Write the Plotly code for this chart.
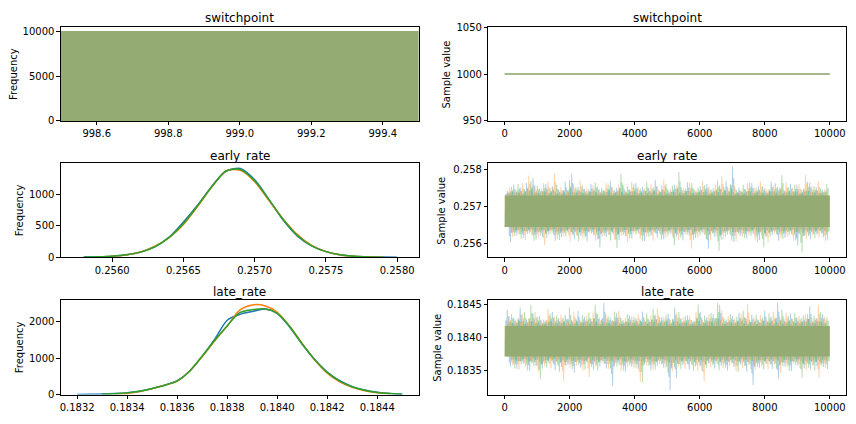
import numpy as np
import plotly.graph_objects as go

# ---------------------------------------------------------------- data
CHAIN_COLORS = ["#1f77b4", "#ff7f0e", "#2ca02c"]
N_DRAWS = 10000

# switchpoint: every draw of every chain is the same value
switchpoint_value = [1000, 1000, 1000]
switchpoint_bin_edges = [998.5, 999.5]
switchpoint_counts = [10000, 10000, 10000]

# posterior density estimates (frequency scale), one list per chain
early_kde_x = [0.2558, 0.2559, 0.2560, 0.2561, 0.2562, 0.2563, 0.2564, 0.2565,
               0.2566, 0.2567, 0.2568, 0.2569, 0.2570, 0.2571, 0.2572, 0.2573,
               0.2574, 0.2575, 0.2576, 0.2577, 0.2578, 0.2579, 0.2580]
early_kde_blue = [3, 8, 18, 40, 85, 170, 320, 560, 830, 1130, 1370, 1410, 1230,
                  920, 590, 335, 180, 90, 40, 17, 7, 3, 1]
early_kde_orange = [None, 7, 16, 38, 85, 175, 310, 520, 810, 1120, 1375, 1380,
                    1200, 900, 610, 360, 190, 92, 38, 15, 6, 2, None]
early_kde_green = [3, 8, 17, 40, 82, 168, 315, 535, 820, 1125, 1370, 1395, 1215,
                   915, 600, 345, 182, 90, 40, 16, 6, 2, None]

late_kde_x = [0.18320, 0.18325, 0.18330, 0.18335, 0.18340, 0.18345, 0.18350,
              0.18355, 0.18360, 0.18365, 0.18370, 0.18375, 0.18380, 0.18385,
              0.18390, 0.18395, 0.18400, 0.18405, 0.18410, 0.18415, 0.18420,
              0.18425, 0.18430, 0.18435, 0.18440, 0.18445, 0.18450]
late_kde_blue = [5, 8, 15, 28, 50, 95, 170, 260, 380, 640, 1050, 1520, 2040, 2200,
                 2280, 2350, 2230, 1850, 1380, 960, 620, 380, 220, 125, 65, 30, 12]
late_kde_orange = [None, None, None, 20, 40, 85, 165, 255, 370, 650, 1040, 1470,
                   1880, 2320, 2460, 2440, 2260, 1880, 1400, 950, 590, 350, 200,
                   105, 50, 22, None]
late_kde_green = [None, None, 12, 26, 48, 92, 168, 258, 375, 650, 1060, 1490, 1890,
                  2250, 2330, 2355, 2230, 1870, 1390, 960, 610, 370, 215, 120, 60,
                  28, 12]

# sample traces: bulk of each chain plus the local extremes along the run
early_core = [0.25645, 0.25729]
early_hi_blue = [0.25742, 0.25758, 0.25751, 0.25763, 0.25776, 0.25748, 0.25760, 0.25754,
                 0.25745, 0.25766, 0.25786, 0.25752, 0.25747, 0.25761, 0.25755, 0.25744,
                 0.25768, 0.25750, 0.25757, 0.25746, 0.25762, 0.25753, 0.25749, 0.25771,
                 0.25756, 0.25743, 0.25759, 0.25752, 0.25765, 0.25747, 0.25754, 0.25761,
                 0.25748, 0.25757, 0.25769, 0.25806, 0.25751, 0.25746, 0.25763, 0.25755,
                 0.25749, 0.25767, 0.25753, 0.25744, 0.25760, 0.25758, 0.25747, 0.25764,
                 0.25752, 0.25745]
early_hi_orange = [0.25750, 0.25745, 0.25762, 0.25783, 0.25754, 0.25748, 0.25767, 0.25789,
                   0.25752, 0.25744, 0.25759, 0.25770, 0.25749, 0.25756, 0.25746, 0.25763,
                   0.25751, 0.25758, 0.25743, 0.25766, 0.25753, 0.25748, 0.25761, 0.25755,
                   0.25772, 0.25747, 0.25757, 0.25750, 0.25764, 0.25745, 0.25769, 0.25752,
                   0.25759, 0.25781, 0.25748, 0.25756, 0.25743, 0.25762, 0.25751, 0.25767,
                   0.25746, 0.25758, 0.25753, 0.25765, 0.25749, 0.25760, 0.25784, 0.25754,
                   0.25768, 0.25747]
early_hi_green = [0.25753, 0.25760, 0.25747, 0.25768, 0.25755, 0.25762, 0.25749, 0.25758,
                  0.25744, 0.25771, 0.25752, 0.25757, 0.25746, 0.25764, 0.25750, 0.25759,
                  0.25745, 0.25787, 0.25754, 0.25761, 0.25748, 0.25766, 0.25752, 0.25743,
                  0.25760, 0.25756, 0.25792, 0.25749, 0.25763, 0.25751, 0.25757, 0.25746,
                  0.25769, 0.25753, 0.25760, 0.25744, 0.25758, 0.25765, 0.25750, 0.25755,
                  0.25747, 0.25762, 0.25784, 0.25752, 0.25759, 0.25745, 0.25767, 0.25754,
                  0.25749, 0.25761]
early_lo_blue = [0.25604, 0.25622, 0.25615, 0.25628, 0.25611, 0.25619, 0.25625, 0.25608,
                 0.25617, 0.25630, 0.25613, 0.25621, 0.25606, 0.25624, 0.25591, 0.25618,
                 0.25627, 0.25610, 0.25620, 0.25614, 0.25629, 0.25607, 0.25623, 0.25616,
                 0.25612, 0.25626, 0.25619, 0.25609, 0.25622, 0.25615, 0.25628, 0.25587,
                 0.25618, 0.25611, 0.25625, 0.25605, 0.25621, 0.25614, 0.25627, 0.25610,
                 0.25619, 0.25623, 0.25608, 0.25616, 0.25626, 0.25595, 0.25620, 0.25612,
                 0.25624, 0.25617]
early_lo_orange = [0.25618, 0.25625, 0.25610, 0.25622, 0.25614, 0.25596, 0.25627, 0.25612,
                   0.25620, 0.25606, 0.25623, 0.25615, 0.25629, 0.25609, 0.25618, 0.25624,
                   0.25611, 0.25621, 0.25605, 0.25626, 0.25613, 0.25619, 0.25608, 0.25628,
                   0.25616, 0.25622, 0.25610, 0.25625, 0.25587, 0.25617, 0.25623, 0.25609,
                   0.25620, 0.25613, 0.25627, 0.25606, 0.25618, 0.25624, 0.25611, 0.25621,
                   0.25603, 0.25626, 0.25614, 0.25619, 0.25608, 0.25625, 0.25612, 0.25622,
                   0.25616, 0.25607]
early_lo_green = [0.25620, 0.25613, 0.25626, 0.25608, 0.25622, 0.25615, 0.25628, 0.25610,
                  0.25619, 0.25624, 0.25606, 0.25617, 0.25627, 0.25612, 0.25621, 0.25609,
                  0.25589, 0.25623, 0.25614, 0.25625, 0.25607, 0.25618, 0.25629, 0.25611,
                  0.25620, 0.25596, 0.25616, 0.25624, 0.25610, 0.25622, 0.25613, 0.25627,
                  0.25581, 0.25619, 0.25608, 0.25625, 0.25615, 0.25621, 0.25604, 0.25591,
                  0.25618, 0.25626, 0.25612, 0.25623, 0.25609, 0.25576, 0.25620, 0.25614,
                  0.25628, 0.25611]

late_core = [0.18371, 0.18417]
late_hi_blue = [0.18441, 0.18430, 0.18445, 0.18427, 0.18436, 0.18432, 0.18425, 0.18438,
                0.18429, 0.18434, 0.18426, 0.18440, 0.18431, 0.18428, 0.18435, 0.18452,
                0.18430, 0.18437, 0.18426, 0.18433, 0.18429, 0.18439, 0.18427, 0.18434,
                0.18431, 0.18436, 0.18445, 0.18428, 0.18433, 0.18425, 0.18438, 0.18430,
                0.18435, 0.18449, 0.18427, 0.18432, 0.18437, 0.18429, 0.18434, 0.18426,
                0.18440, 0.18431, 0.18452, 0.18428, 0.18436, 0.18430, 0.18433, 0.18447,
                0.18429, 0.18435]
late_hi_orange = [0.18432, 0.18427, 0.18436, 0.18429, 0.18438, 0.18425, 0.18443, 0.18431,
                  0.18434, 0.18428, 0.18439, 0.18426, 0.18433, 0.18437, 0.18430, 0.18435,
                  0.18427, 0.18440, 0.18429, 0.18432, 0.18436, 0.18428, 0.18434, 0.18444,
                  0.18431, 0.18426, 0.18437, 0.18430, 0.18433, 0.18438, 0.18427, 0.18435,
                  0.18429, 0.18441, 0.18432, 0.18428, 0.18436, 0.18450, 0.18430, 0.18434,
                  0.18426, 0.18439, 0.18431, 0.18437, 0.18428, 0.18433, 0.18435, 0.18429,
                  0.18448, 0.18431]
late_hi_green = [0.18435, 0.18429, 0.18438, 0.18449, 0.18431, 0.18427, 0.18436, 0.18433,
                 0.18430, 0.18445, 0.18428, 0.18434, 0.18437, 0.18449, 0.18426, 0.18432,
                 0.18439, 0.18429, 0.18435, 0.18431, 0.18427, 0.18436, 0.18443, 0.18430,
                 0.18434, 0.18428, 0.18438, 0.18432, 0.18426, 0.18449, 0.18433, 0.18437,
                 0.18452, 0.18429, 0.18435, 0.18431, 0.18440, 0.18427, 0.18434, 0.18430,
                 0.18436, 0.18428, 0.18442, 0.18432, 0.18437, 0.18429, 0.18435, 0.18433,
                 0.18438, 0.18430]
late_lo_blue = [0.18356, 0.18352, 0.18360, 0.18349, 0.18357, 0.18353, 0.18361, 0.18350,
                0.18355, 0.18358, 0.18347, 0.18354, 0.18362, 0.18351, 0.18356, 0.18353,
                0.18327, 0.18359, 0.18348, 0.18355, 0.18352, 0.18360, 0.18350, 0.18357,
                0.18354, 0.18320, 0.18339, 0.18358, 0.18351, 0.18356, 0.18349, 0.18361,
                0.18353, 0.18357, 0.18350, 0.18355, 0.18359, 0.18348, 0.18328, 0.18354,
                0.18360, 0.18352, 0.18337, 0.18356, 0.18349, 0.18358, 0.18353, 0.18351,
                0.18357, 0.18355]
late_lo_orange = [0.18358, 0.18351, 0.18355, 0.18360, 0.18348, 0.18356, 0.18353, 0.18359,
                  0.18334, 0.18354, 0.18357, 0.18350, 0.18340, 0.18356, 0.18361, 0.18352,
                  0.18358, 0.18349, 0.18355, 0.18353, 0.18333, 0.18357, 0.18351, 0.18360,
                  0.18354, 0.18348, 0.18356, 0.18352, 0.18359, 0.18350, 0.18333, 0.18355,
                  0.18361, 0.18353, 0.18357, 0.18349, 0.18354, 0.18358, 0.18351, 0.18356,
                  0.18352, 0.18359, 0.18347, 0.18355, 0.18360, 0.18353, 0.18350, 0.18357,
                  0.18339, 0.18354]
late_lo_green = [0.18353, 0.18359, 0.18350, 0.18356, 0.18337, 0.18354, 0.18361, 0.18348,
                 0.18357, 0.18352, 0.18358, 0.18351, 0.18355, 0.18349, 0.18360, 0.18353,
                 0.18356, 0.18350, 0.18358, 0.18354, 0.18332, 0.18357, 0.18351, 0.18359,
                 0.18346, 0.18355, 0.18352, 0.18360, 0.18349, 0.18356, 0.18353, 0.18358,
                 0.18350, 0.18354, 0.18361, 0.18348, 0.18357, 0.18352, 0.18355, 0.18351,
                 0.18359, 0.18353, 0.18356, 0.18349, 0.18358, 0.18339, 0.18354, 0.18350,
                 0.18357, 0.18352]

ALPHA = 0.35
FONT = "DejaVu Sans"
W, H = 856, 424

# outline of one excursion: (offset in draws, fraction of the way from bulk edge to extreme)
EXCURSION = [(-70, 0.0), (-64, 0.35), (-22, 0.35), (-16, 1.0), (14, 1.0),
             (20, 0.6), (52, 0.6), (58, 0.0)]


def trace_outline(hi, lo, core, chain):
    """Closed outline of one chain: a solid bulk with stepped excursion columns."""
    last = N_DRAWS - 1
    start = 80 + 66 * chain
    xs_hi = np.linspace(start, start + 9700, len(hi))
    xs_lo = np.minimum(np.linspace(start + 99, start + 9720, len(lo)), last - 70)
    bottom, top = core
    px, py = [0, 0], [bottom, top]
    for x, v in zip(xs_hi, hi):
        for dx, f in EXCURSION:
            px.append(x + dx)
            py.append(top + f * (v - top))
    px += [last, last]
    py += [top, bottom]
    for x, v in zip(xs_lo[::-1], lo[::-1]):
        for dx, f in reversed(EXCURSION):
            px.append(x - dx)
            py.append(bottom + f * (v - bottom))
    px.append(0)
    py.append(bottom)
    return px, py


fig = go.Figure()

# row 1 left: switchpoint histogram
centre = float(np.mean(switchpoint_bin_edges))
width = float(np.diff(switchpoint_bin_edges)[0])
for c, count in enumerate(switchpoint_counts):
    fig.add_trace(go.Bar(x=[centre], y=[count], width=[width], xaxis="x", yaxis="y",
                         marker=dict(color=CHAIN_COLORS[c], line=dict(width=0)),
                         opacity=ALPHA, showlegend=False, hoverinfo="skip"))

# row 1 right: switchpoint trace
for c, v in enumerate(switchpoint_value):
    fig.add_trace(go.Scatter(x=[0, N_DRAWS - 1], y=[v, v], mode="lines",
                             xaxis="x2", yaxis="y2", opacity=ALPHA,
                             line=dict(color=CHAIN_COLORS[c], width=1.5),
                             showlegend=False, hoverinfo="skip"))

# rows 2-3 left: density curves
for xa, ya, xs, curves in [("x3", "y3", early_kde_x, [early_kde_blue, early_kde_orange, early_kde_green]),
                           ("x5", "y5", late_kde_x, [late_kde_blue, late_kde_orange, late_kde_green])]:
    for c, ys in enumerate(curves):
        fig.add_trace(go.Scatter(x=xs, y=ys, mode="lines", xaxis=xa, yaxis=ya,
                                 line=dict(color=CHAIN_COLORS[c], width=1.5, shape="spline", smoothing=0.8),
                                 connectgaps=False, showlegend=False, hoverinfo="skip"))

# rows 2-3 right: sample traces
for xa, ya, core, his, los in [
        ("x4", "y4", early_core, [early_hi_blue, early_hi_orange, early_hi_green],
         [early_lo_blue, early_lo_orange, early_lo_green]),
        ("x6", "y6", late_core, [late_hi_blue, late_hi_orange, late_hi_green],
         [late_lo_blue, late_lo_orange, late_lo_green])]:
    for c in range(3):
        px, py = trace_outline(his[c], los[c], core, c)
        fig.add_trace(go.Scatter(x=px, y=py, mode="lines", fill="toself",
                                 fillcolor=CHAIN_COLORS[c], line=dict(width=0, color=CHAIN_COLORS[c]),
                                 opacity=ALPHA, xaxis=xa, yaxis=ya,
                                 showlegend=False, hoverinfo="skip"))

# ---------------------------------------------------------------- axes
LEFT = [60 / W, 418 / W]
RIGHT = [488 / W, 846 / W]
ROWS = [[1 - 119 / H, 1 - 22.7 / H], [1 - 259 / H, 1 - 162.7 / H], [1 - 400 / H, 1 - 302.7 / H]]

base = dict(showline=True, mirror=True, linecolor="black", linewidth=1,
            ticks="outside", ticklen=3.5, tickwidth=1, tickcolor="black",
            showgrid=False, zeroline=False, fixedrange=True,
            tickfont=dict(family=FONT, size=10, color="black"))

early_range = [0.25564, 0.25815]
late_range = [0.183135, 0.184565]
draw_range = [-0.05 * (N_DRAWS - 1), 1.05 * (N_DRAWS - 1)]
draw_ticks = [0, 2000, 4000, 6000, 8000, 10000]

axes = {
    "xaxis": dict(domain=LEFT, anchor="y", range=switchpoint_bin_edges,
                  tickvals=[998.6, 998.8, 999.0, 999.2, 999.4], tickformat=".1f"),
    "yaxis": dict(domain=ROWS[0], anchor="x", range=[0, 10500],
                  tickvals=[0, 5000, 10000], tickformat="d"),
    "xaxis2": dict(domain=RIGHT, anchor="y2", range=draw_range, tickvals=draw_ticks, tickformat="d"),
    "yaxis2": dict(domain=ROWS[0], anchor="x2", range=[950, 1050],
                   tickvals=[950, 1000, 1050], tickformat="d"),
    "xaxis3": dict(domain=LEFT, anchor="y3", range=early_range,
                   tickvals=[0.2560, 0.2565, 0.2570, 0.2575, 0.2580], tickformat=".4f"),
    "yaxis3": dict(domain=ROWS[1], anchor="x3", range=[0, 1490],
                   tickvals=[0, 500, 1000], tickformat="d"),
    "xaxis4": dict(domain=RIGHT, anchor="y4", range=draw_range, tickvals=draw_ticks, tickformat="d"),
    "yaxis4": dict(domain=ROWS[1], anchor="x4", range=early_range,
                   tickvals=[0.256, 0.257, 0.258], tickformat=".3f"),
    "xaxis5": dict(domain=LEFT, anchor="y5", range=late_range,
                   tickvals=[0.1832, 0.1834, 0.1836, 0.1838, 0.1840, 0.1842, 0.1844], tickformat=".4f"),
    "yaxis5": dict(domain=ROWS[2], anchor="x5", range=[0, 2600],
                   tickvals=[0, 1000, 2000], tickformat="d"),
    "xaxis6": dict(domain=RIGHT, anchor="y6", range=draw_range, tickvals=draw_ticks, tickformat="d"),
    "yaxis6": dict(domain=ROWS[2], anchor="x6", range=late_range,
                   tickvals=[0.1835, 0.1840, 0.1845], tickformat=".4f"),
}
for k, v in axes.items():
    axes[k] = {**base, **v}

# ---------------------------------------------------------------- text
annotations = []
titles = ["switchpoint", "early_rate", "late_rate"]
title_y = [13.3, 155, 295]
for name, ty in zip(titles, title_y):
    for dom in (LEFT, RIGHT):
        annotations.append(dict(text=name, x=(dom[0] + dom[1]) / 2, y=1 - ty / H,
                                xref="paper", yref="paper", showarrow=False,
                                xanchor="center", yanchor="middle",
                                font=dict(family=FONT, size=12, color="black")))

ylabel_pos = [(12, "Frequency", 0), (18, "Frequency", 1), (18, "Frequency", 2),
              (446, "Sample value", 0), (441, "Sample value", 1), (437, "Sample value", 2)]
for px, label, r in ylabel_pos:
    annotations.append(dict(text=label, x=px / W, y=(ROWS[r][0] + ROWS[r][1]) / 2,
                            xref="paper", yref="paper", showarrow=False, textangle=-90,
                            xanchor="center", yanchor="middle",
                            font=dict(family=FONT, size=10, color="black")))

fig.update_layout(width=W, height=H, margin=dict(l=0, r=0, t=0, b=0),
                  paper_bgcolor="white", plot_bgcolor="white", barmode="overlay",
                  bargap=0, annotations=annotations, **axes)

fig.write_html("out.html")
